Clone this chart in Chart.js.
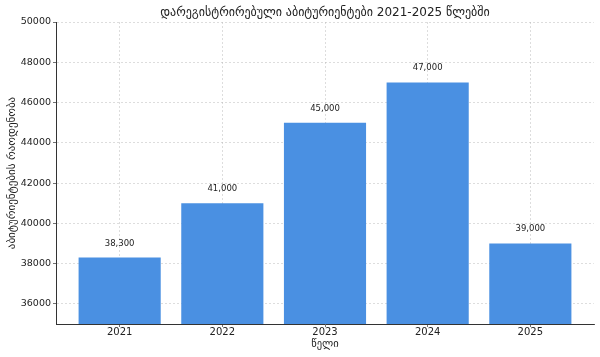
<!DOCTYPE html>
<html>
<head>
<meta charset="utf-8">
<script src="https://cdn.jsdelivr.net/npm/chart.js@4.4.1/dist/chart.umd.min.js"></script>
<style>
html,body{margin:0;padding:0;background:#fff;}
#wrap{width:600px;height:357px;position:relative;}
</style>
</head>
<body>
<div id="wrap"><canvas id="c" width="600" height="357"></canvas></div>
<script>
const categories = ["2021", "2022", "2023", "2024", "2025"];
const values = [38300, 41000, 45000, 47000, 39000];
const yTicks = [36000, 38000, 40000, 42000, 44000, 46000, 48000, 50000];
const titleText = "დარეგისტრირებული აბიტურიენტები 2021-2025 წლებში";
const xTitle = "წელი";
const yTitle = "აბიტურიენტების რაოდენობა";

const FONT = "'DejaVu Sans', sans-serif";
const barColor = "#4a90e2";
const textColor = "#222222";

const labelPlugin = {
  id: 'valueLabels',
  afterDatasetsDraw(chart) {
    const ctx = chart.ctx;
    const xs = chart.scales.x, ys = chart.scales.y;
    ctx.save();
    ctx.font = "8.5px " + FONT;
    ctx.fillStyle = textColor;
    ctx.textAlign = 'center';
    ctx.textBaseline = 'bottom';
    values.forEach((v, i) => {
      const x = xs.getPixelForValue(i);
      const y = ys.getPixelForValue(v);
      ctx.fillText(v.toLocaleString('en-US'), x, y - 10);
    });
    ctx.restore();
  }
};

const titlePlugin = {
  id: 'plotTitle',
  afterDraw(chart) {
    const ctx = chart.ctx;
    const a = chart.chartArea;
    ctx.save();
    ctx.font = "12px " + FONT;
    ctx.fillStyle = textColor;
    ctx.textAlign = 'center';
    ctx.textBaseline = 'middle';
    ctx.fillText(titleText, (a.left + a.right) / 2, 13);
    ctx.restore();
  }
};

const gridStyle = {
  color: 'rgba(175,175,175,0.6)',
  lineWidth: 0.7,
  drawTicks: true,
  tickLength: 3,
  tickColor: '#333',
  tickBorderDash: [],
  offset: false
};

new Chart(document.getElementById('c'), {
  type: 'bar',
  data: {
    datasets: [{
      data: values.map((v, i) => ({x: i, y: v})),
      backgroundColor: barColor,
      borderWidth: 0,
      barPercentage: 1.0,
      categoryPercentage: 0.8
    }]
  },
  options: {
    responsive: false,
    animation: false,
    devicePixelRatio: 1,
    layout: {padding: {left: 0, right: 6, top: 22, bottom: 0}},
    plugins: {
      legend: {display: false},
      tooltip: {enabled: false},
      title: {display: false}
    },
    scales: {
      x: {
        type: 'linear',
        offset: false,
        min: -0.62,
        max: 4.62,
        z: 1,
        afterBuildTicks(scale) {
          scale.ticks = categories.map((c, i) => ({value: i}));
        },
        afterFit(scale) { scale.height = 33; },
        ticks: {
          color: textColor,
          font: {family: FONT, size: 10},
          padding: -1,
          callback: (v) => categories[v]
        },
        grid: gridStyle,
        border: {display: true, color: '#333', width: 1, dash: [2, 2]},
        title: {
          display: true,
          text: xTitle,
          color: textColor,
          font: {family: FONT, size: 10.5},
          padding: {top: 0, bottom: 6}
        }
      },
      y: {
        min: 35000,
        max: 50000,
        z: 1,
        afterBuildTicks(scale) {
          scale.ticks = yTicks.map(v => ({value: v}));
        },
        afterFit(scale) { scale.width = 56; },
        ticks: {
          color: textColor,
          font: {family: FONT, size: 9.5},
          padding: 2,
          callback: (v) => String(v)
        },
        grid: gridStyle,
        border: {display: true, color: '#333', width: 1, dash: [2, 2]},
        title: {
          display: true,
          text: yTitle,
          color: textColor,
          font: {family: FONT, size: 11},
          padding: {top: 6, bottom: 0}
        }
      }
    }
  },
  plugins: [labelPlugin, titlePlugin]
});
</script>
</body>
</html>
